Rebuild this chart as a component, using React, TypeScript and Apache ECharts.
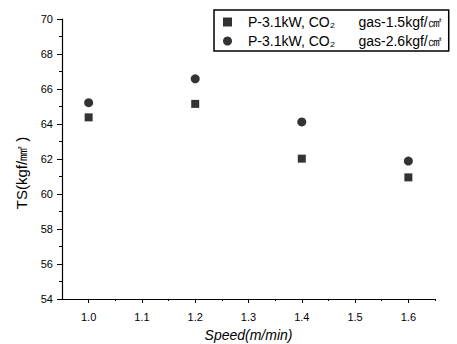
import React, { useEffect, useRef } from "react";
import * as echarts from "echarts";

const speeds = [1.0, 1.2, 1.4, 1.6];
const ts15 = [64.38, 65.15, 62.02, 60.95];
const ts26 = [65.22, 66.58, 64.12, 61.88];
const seriesNames = [
  "P-3.1kW, CO\u2082      gas-1.5kgf/\u33A0",
  "P-3.1kW, CO\u2082      gas-2.6kgf/\u33A0",
];
const xMajor = [1.0, 1.1, 1.2, 1.3, 1.4, 1.5, 1.6];
const xMinor = [1.05, 1.15, 1.25, 1.35, 1.45, 1.55, 1.65];
const yTitle = "TS(kgf/\u339F )";
const xTitle = "Speed(m/min)";

export default function App() {
  const ref = useRef<HTMLDivElement>(null);
  useEffect(() => {
    if (!ref.current) return;
    const chart = echarts.init(ref.current, null, { renderer: "svg" });
    const font = "Liberation Sans, Arial, sans-serif";
    chart.setOption({
      animation: false,
      backgroundColor: "#fff",
      textStyle: { fontFamily: font, color: "#000" },
      grid: { left: 62, right: 22, top: 19, bottom: 45, outerBoundsMode: "none", containLabel: false },
      legend: {
        orient: "vertical",
        left: 214,
        top: 10,
        padding: [4, 7, 2, 9],
        itemGap: 3,
        itemWidth: 9,
        itemHeight: 9,
        borderColor: "#000",
        borderWidth: 1.5,
        backgroundColor: "#fff",
        textStyle: {
          fontSize: 14,
          lineHeight: 16,
          color: "#000",
          fontFamily: font,
          padding: [0, 0, 0, 11],
        },
        data: [
          { name: seriesNames[0], icon: "rect" },
          { name: seriesNames[1], icon: "circle" },
        ],
      },
      graphic: [
        {
          type: "text",
          x: 21,
          y: 173,
          rotation: Math.PI / 2,
          style: {
            text: yTitle,
            fontSize: 15,
            fontFamily: font,
            fill: "#000",
            align: "center",
            verticalAlign: "middle",
          },
        },
      ],
      xAxis: [
        {
          type: "value",
          min: 0.95,
          max: 1.65,
          axisLine: { lineStyle: { color: "#000", width: 1.2 } },
          axisTick: { customValues: xMajor, length: 4, lineStyle: { color: "#000" } },
          axisLabel: {
            customValues: xMajor,
            formatter: (v: number) => v.toFixed(1),
            fontSize: 11,
            color: "#000",
            margin: 12,
          },
          splitLine: { show: false },
          name: xTitle,
          nameLocation: "middle",
          nameGap: 29,
          nameTextStyle: { fontSize: 14, fontStyle: "italic", color: "#000" },
        },
        {
          type: "value",
          min: 0.95,
          max: 1.65,
          position: "bottom",
          axisLine: { show: false },
          axisTick: { customValues: xMinor, length: 2, lineStyle: { color: "#000" } },
          axisLabel: { show: false },
          splitLine: { show: false },
        },
      ],
      yAxis: {
        type: "value",
        min: 54,
        max: 70,
        interval: 2,
        axisLine: { show: true, lineStyle: { color: "#000", width: 1.2 } },
        axisTick: { show: true, length: 5, lineStyle: { color: "#000" } },
        minorTick: { show: true, splitNumber: 2, length: 3, lineStyle: { color: "#000" } },
        axisLabel: { fontSize: 11, color: "#000", margin: 9 },
        splitLine: { show: false },
      },
      series: [
        {
          name: seriesNames[0],
          type: "scatter",
          symbol: "rect",
          symbolSize: 8,
          itemStyle: { color: "#000" },
          data: speeds.map((s, i) => [s, ts15[i]]),
        },
        {
          name: seriesNames[1],
          type: "scatter",
          symbol: "circle",
          symbolSize: 9,
          itemStyle: { color: "#000" },
          data: speeds.map((s, i) => [s, ts26[i]]),
        },
      ],
    });
    return () => chart.dispose();
  }, []);
  return (
    <div
      ref={ref}
      style={{ width: 457, height: 344, position: "absolute", left: 0, top: 0 }}
    />
  );
}
